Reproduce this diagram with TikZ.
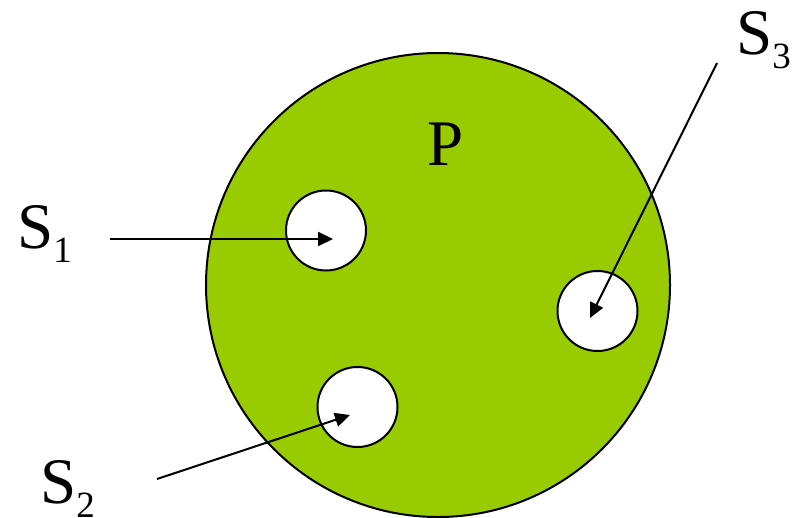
\documentclass[tikz,border=0pt]{standalone}
\usepackage{fontspec}
\setmainfont{Liberation Serif}
\usetikzlibrary{arrows.meta}
\definecolor{pgreen}{RGB}{153,204,0}
\tikzset{
  hole/.style={draw=black, line width=2pt, fill=white, circle, minimum size=80pt, inner sep=0pt},
  pointer/.style={draw=black, line width=2pt, -{Triangle[length=15pt,width=14pt]}},
  lbl/.style={anchor=base west, inner sep=0pt, font=\fontsize{65}{65}\selectfont}
}
\newcommand{\mysub}[1]{\raisebox{-14pt}{\fontsize{37}{37}\selectfont #1}}
\begin{document}
\begin{tikzpicture}[x=1pt,y=-1pt]
\useasboundingbox (0,0) rectangle (797,517);
\begin{scope}
\clip (0,0) rectangle (797,517);
\draw[line width=2pt, fill=pgreen] (438,285) circle [radius=232];
\node[hole] (h1) at (326,230.5) {};
\node[hole] (h3) at (597.5,311) {};
\node[hole] (h2) at (357.5,407) {};
\coordinate (a1s) at (110,239);
\coordinate (a1e) at (333,239);
\coordinate (a2s) at (157,479);
\coordinate (a2e) at (350,415);
\coordinate (a3s) at (717,63);
\coordinate (a3e) at (590,318);
\draw[pointer] (a1s) -- (a1e);
\draw[pointer] (a2s) -- (a2e);
\draw[pointer] (a3s) -- (a3e);
\node[lbl] (s1) at (17,248) {S\mysub{1}};
\node[lbl] (s2) at (40,503) {S\mysub{2}};
\node[lbl] (s3) at (736,54) {S\mysub{3}};
\node[lbl] (p) at (427,165) {P};
\end{scope}
\end{tikzpicture}
\end{document}
